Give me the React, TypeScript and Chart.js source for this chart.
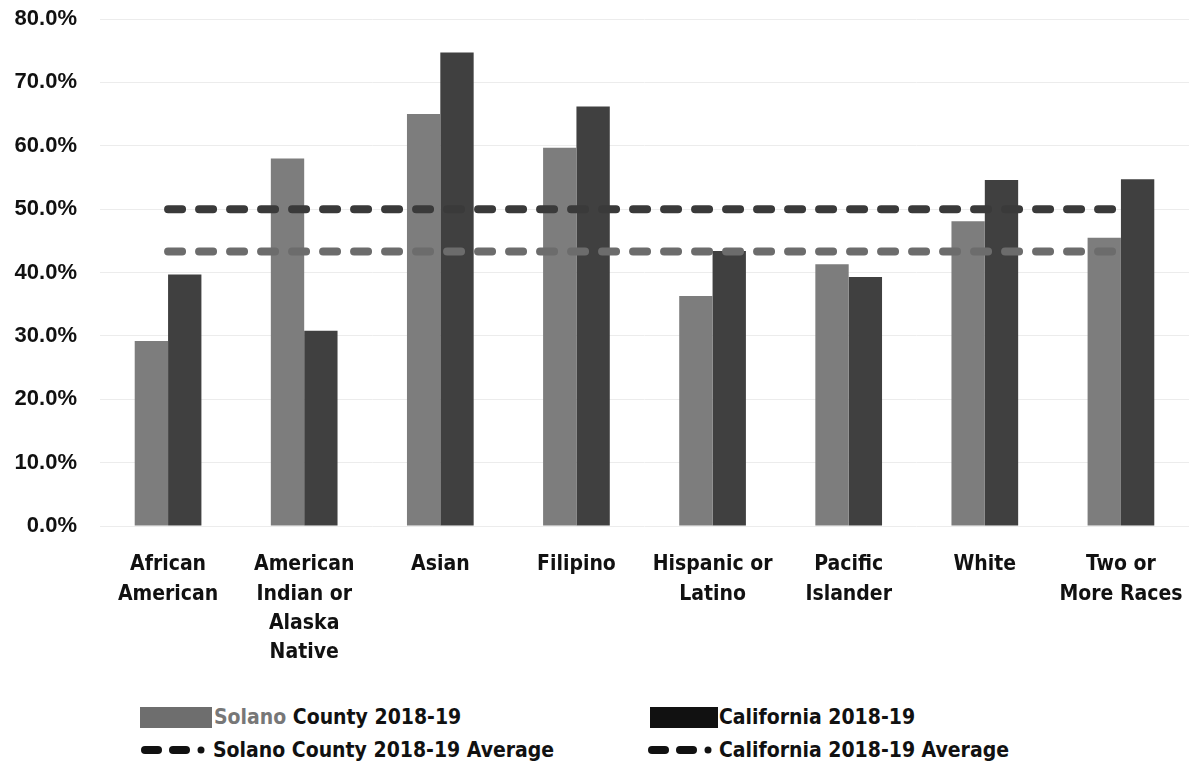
import React, { useEffect, useRef } from "react";
import { Chart, registerables } from "chart.js";

Chart.register(...registerables);

const categories: string[][] = [
  ["African", "American"],
  ["American", "Indian or", "Alaska", "Native"],
  ["Asian"],
  ["Filipino"],
  ["Hispanic or", "Latino"],
  ["Pacific", "Islander"],
  ["White"],
  ["Two or", "More Races"],
];

const solanoValues = [29.2, 58.0, 65.0, 59.7, 36.3, 41.3, 48.1, 45.5];
const californiaValues = [39.7, 30.8, 74.7, 66.2, 43.4, 39.3, 54.6, 54.7];
const solanoAverage = [43.3, 43.3, 43.3, 43.3, 43.3, 43.3, 43.3, 43.3];
const californiaAverage = [50.0, 50.0, 50.0, 50.0, 50.0, 50.0, 50.0, 50.0];

const yTicks = [0, 10, 20, 30, 40, 50, 60, 70, 80];

const seriesLabels = [
  "Solano County 2018-19",
  "California 2018-19",
  "Solano County 2018-19 Average",
  "California 2018-19 Average",
];

const SOLANO = "#7d7d7d";
const CALI = "#404040";
const SOLANO_LINE = "#6c6c6c";
const CALI_LINE = "#3a3a3a";

const condensed =
  '"Liberation Sans Narrow", "DejaVu Sans Condensed", "Roboto Condensed", "Liberation Sans", sans-serif';

const LineIcon = ({ color }: { color: string }) => (
  <svg width="72" height="14" style={{ display: "block" }}>
    <rect x="1" y="3" width="21" height="8" rx="4" fill={color} />
    <rect x="29" y="3" width="21" height="8" rx="4" fill={color} />
    <circle cx="61" cy="7" r="3.5" fill={color} />
  </svg>
);

export default function App() {
  const canvasRef = useRef<HTMLCanvasElement | null>(null);

  useEffect(() => {
    if (!canvasRef.current) return;
    const chart = new Chart(canvasRef.current, {
      type: "bar",
      data: {
        labels: categories,
        datasets: [
          {
            type: "line",
            label: seriesLabels[3],
            data: californiaAverage,
            borderColor: CALI_LINE,
            backgroundColor: CALI_LINE,
            borderWidth: 8,
            borderDash: [14, 17],
            borderCapStyle: "round",
            pointRadius: 0,
            fill: false,
            order: 0,
          } as any,
          {
            type: "line",
            label: seriesLabels[2],
            data: solanoAverage,
            borderColor: SOLANO_LINE,
            backgroundColor: SOLANO_LINE,
            borderWidth: 8,
            borderDash: [14, 17],
            borderCapStyle: "round",
            pointRadius: 0,
            fill: false,
            order: 0,
          } as any,
          {
            type: "bar",
            label: seriesLabels[0],
            data: solanoValues,
            backgroundColor: SOLANO,
            categoryPercentage: 0.49,
            barPercentage: 1.0,
            order: 1,
          },
          {
            type: "bar",
            label: seriesLabels[1],
            data: californiaValues,
            backgroundColor: CALI,
            categoryPercentage: 0.49,
            barPercentage: 1.0,
            order: 1,
          },
        ],
      },
      options: {
        responsive: false,
        animation: false,
        layout: { padding: { top: 19, right: 6, left: 0, bottom: 0 } },
        plugins: {
          legend: { display: false },
          tooltip: { enabled: false },
        },
        scales: {
          x: {
            grid: { display: false, drawTicks: false },
            border: { display: false },
            ticks: {
              color: "#111",
              font: { family: condensed, size: 21, weight: "bold", lineHeight: 1.4 },
              padding: 24,
              maxRotation: 0,
              autoSkip: false,
            },
            afterFit: (scale: any) => {
              scale.height = 164;
              scale.paddingLeft = 0;
              scale.paddingRight = 0;
            },
          },
          y: {
            min: 0,
            max: 80,
            afterBuildTicks: (scale: any) => {
              scale.ticks = yTicks.map((v) => ({ value: v }));
            },
            grid: { color: "#ececec", lineWidth: 1, drawTicks: false },
            border: { display: false },
            ticks: {
              color: "#111",
              font: { family: '"Liberation Sans", Arial, sans-serif', size: 22, weight: "bold" },
              padding: 23,
              callback: (v: any) => Number(v).toFixed(1) + "%",
            },
            afterFit: (scale: any) => {
              scale.width = 100;
              scale.paddingTop = 0;
              scale.paddingBottom = 0;
            },
          },
        },
      },
    });
    return () => chart.destroy();
  }, []);

  const textStyle: React.CSSProperties = {
    position: "absolute",
    fontFamily: condensed,
    fontWeight: "bold",
    fontSize: 21,
    color: "#111",
    whiteSpace: "nowrap",
    lineHeight: "24px",
  };

  return (
    <div
      style={{
        position: "fixed",
        left: 0,
        top: 0,
        width: 1195,
        height: 765,
        background: "#fff",
        overflow: "hidden",
      }}
    >
      <canvas ref={canvasRef} width={1195} height={690} style={{ display: "block" }} />
      <div style={{ position: "absolute", left: 140, top: 707, width: 72, height: 21, background: "#6e6e6e" }} />
      <div style={{ ...textStyle, left: 214, top: 705 }}>
        <span style={{ color: "#777" }}>Solano</span> County 2018-19
      </div>
      <div style={{ position: "absolute", left: 650, top: 707, width: 68, height: 21, background: "#111" }} />
      <div style={{ ...textStyle, left: 719, top: 705 }}>{seriesLabels[1]}</div>
      <div style={{ position: "absolute", left: 140, top: 743 }}>
        <LineIcon color="#111" />
      </div>
      <div style={{ ...textStyle, left: 213, top: 738 }}>{seriesLabels[2]}</div>
      <div style={{ position: "absolute", left: 647, top: 743 }}>
        <LineIcon color="#111" />
      </div>
      <div style={{ ...textStyle, left: 719, top: 738 }}>{seriesLabels[3]}</div>
    </div>
  );
}
